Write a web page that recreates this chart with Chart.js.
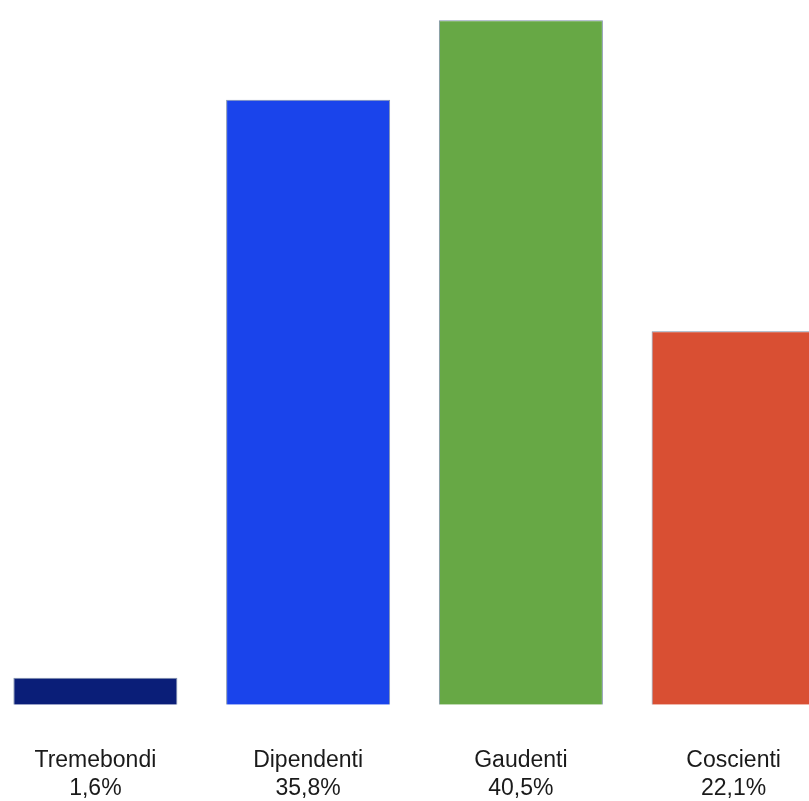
<!DOCTYPE html>
<html>
<head>
<meta charset="utf-8">
<script src="https://cdn.jsdelivr.net/npm/chart.js@4.4.1/dist/chart.umd.min.js"></script>
<style>
    html, body { margin: 0; padding: 0; background: #fff; overflow: hidden; width: 809px; height: 801px; }
    #wrap { position: absolute; left: -11px; top: 0; width: 851px; height: 844px; }
</style>
</head>
<body>
<div id="wrap"><canvas id="grafico"></canvas></div>
<script>
// --- dati ---
const categorie = ['Tremebondi', 'Dipendenti', 'Gaudenti', 'Coscienti'];
const percentuali = [1.6, 35.8, 40.5, 22.1];
const etichettePerc = ['1,6%', '35,8%', '40,5%', '22,1%'];
const colori = ['#0a1e78', '#1a44eb', '#67a845', '#d94f33'];

const ctx = document.getElementById('grafico').getContext('2d');

new Chart(ctx, {
    type: 'bar',
    data: {
        labels: categorie.map((c, i) => [c, etichettePerc[i]]),
        datasets: [{
            data: percentuali,
            backgroundColor: colori,
            borderColor: '#8191ab',
            borderWidth: 1,
            barPercentage: 0.771,
            categoryPercentage: 1
        }]
    },
    options: {
        responsive: true,
        maintainAspectRatio: false,
        animation: false,
        devicePixelRatio: 1,
        plugins: {
            legend: { display: false },
            tooltip: { enabled: false }
        },
        layout: { padding: 0 },
        scales: {
            x: {
                grid: { display: false, drawTicks: false },
                border: { display: false },
                ticks: {
                    maxRotation: 0, minRotation: 0, padding: 42,
                    color: '#1a1a1a',
                    font: { family: 'Liberation Sans', size: 23, lineHeight: 1.2 }
                }
            },
            y: {
                display: false,
                min: 0,
                max: 41.7
            }
        }
    }
});
</script>
</body>
</html>
